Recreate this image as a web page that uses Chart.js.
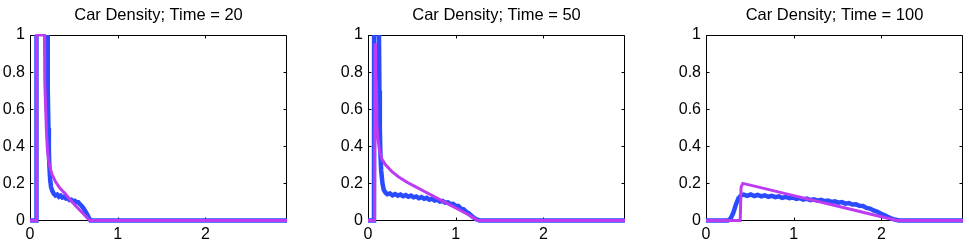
<!DOCTYPE html>
<html>
<head>
<meta charset="utf-8">
<script src="https://cdn.jsdelivr.net/npm/chart.js@4.4.0/dist/chart.umd.min.js"></script>
<style>
  body { margin: 0; background: #fff; width: 969px; height: 243px; position: relative; overflow: hidden; }
  canvas { position: absolute; top: 0; }
</style>
</head>
<body>
<canvas id="c20" style="left:0px" width="290" height="243"></canvas>
<canvas id="c50" style="left:338px" width="290" height="243"></canvas>
<canvas id="c100" style="left:676px" width="290" height="243"></canvas>
<script>
var xMax = 2.93;
var xTicks = [0, 1, 2];
var yTicks = [0, 0.2, 0.4, 0.6, 0.8, 1];
var yTickLabels = ['0', '0.2', '0.4', '0.6', '0.8', '1'];
var titles = ['Car Density; Time = 20', 'Car Density; Time = 50', 'Car Density; Time = 100'];

// Time = 20 (simulation goes above 1 near the front, cut off by the axes)
var x20Sim = [0, 0.072, 0.074, 0.195, 0.2, 0.205, 0.21, 0.215, 0.22, 0.23, 0.24, 0.255, 0.27, 0.29, 0.31, 0.33, 0.35, 0.37, 0.39, 0.41, 0.43, 0.45, 0.47, 0.49, 0.51, 0.53, 0.55, 0.57, 0.59, 0.61, 0.63, 0.65, 0.67, 0.69, 2.93];
var y20Sim = [0, 0, 1.3, 1.3, 1.0, 0.7, 0.5, 0.38, 0.3, 0.22, 0.18, 0.158, 0.145, 0.135, 0.14, 0.128, 0.134, 0.124, 0.128, 0.118, 0.12, 0.11, 0.112, 0.103, 0.106, 0.098, 0.098, 0.088, 0.078, 0.066, 0.05, 0.034, 0.016, 0, 0];
var x20Model = [0, 0.074, 0.076, 0.165, 0.167, 0.17, 0.18, 0.19, 0.20, 0.22, 0.25, 0.29, 0.34, 0.40, 0.46, 0.52, 0.58, 0.64, 0.68, 2.93];
var y20Model = [0, 0, 1, 1, 0.9, 0.75, 0.58, 0.45, 0.37, 0.3, 0.25, 0.21, 0.175, 0.145, 0.11, 0.08, 0.05, 0.02, 0, 0];

// Time = 50
var x50Sim = [0, 0.068, 0.07, 0.122, 0.125, 0.13, 0.135, 0.14, 0.15, 0.165, 0.18, 0.2, 0.22, 0.25, 0.28, 0.31, 0.34, 0.37, 0.40, 0.43, 0.46, 0.49, 0.52, 0.55, 0.58, 0.61, 0.64, 0.67, 0.70, 0.73, 0.76, 0.79, 0.82, 0.85, 0.88, 0.91, 0.94, 0.97, 1.00, 1.03, 1.06, 1.09, 1.12, 1.15, 1.18, 1.21, 1.24, 1.27, 2.93];
var y50Sim = [0, 0, 1.3, 1.3, 1.0, 0.7, 0.5, 0.38, 0.27, 0.2, 0.165, 0.15, 0.142, 0.146, 0.136, 0.143, 0.134, 0.14, 0.131, 0.137, 0.128, 0.134, 0.125, 0.13, 0.12, 0.126, 0.117, 0.122, 0.112, 0.118, 0.108, 0.112, 0.102, 0.106, 0.096, 0.098, 0.088, 0.09, 0.078, 0.078, 0.064, 0.06, 0.046, 0.038, 0.026, 0.014, 0.006, 0, 0];
var x50Model = [0, 0.075, 0.08, 0.085, 0.09, 0.095, 0.10, 0.11, 0.13, 0.16, 0.20, 0.27, 0.35, 0.45, 0.55, 0.65, 0.75, 0.85, 0.95, 1.05, 1.15, 1.25, 2.93];
var y50Model = [0, 0, 0.955, 0.9, 0.78, 0.65, 0.54, 0.45, 0.38, 0.33, 0.3, 0.265, 0.235, 0.205, 0.18, 0.155, 0.13, 0.105, 0.08, 0.055, 0.03, 0, 0];

// Time = 100
var x100Sim = [0, 0.25, 0.28, 0.31, 0.34, 0.37, 0.40, 0.43, 0.47, 0.51, 0.55, 0.59, 0.63, 0.67, 0.71, 0.75, 0.79, 0.83, 0.87, 0.91, 0.95, 0.99, 1.03, 1.07, 1.11, 1.15, 1.19, 1.23, 1.27, 1.31, 1.35, 1.39, 1.43, 1.47, 1.51, 1.55, 1.59, 1.63, 1.67, 1.71, 1.75, 1.79, 1.83, 1.87, 1.91, 1.95, 1.99, 2.03, 2.07, 2.11, 2.15, 2.2, 2.93];
var y100Sim = [0, 0, 0.01, 0.04, 0.085, 0.12, 0.135, 0.14, 0.133, 0.14, 0.132, 0.138, 0.13, 0.136, 0.128, 0.133, 0.126, 0.13, 0.122, 0.127, 0.12, 0.124, 0.117, 0.121, 0.113, 0.118, 0.11, 0.114, 0.107, 0.111, 0.104, 0.107, 0.1, 0.103, 0.096, 0.099, 0.091, 0.094, 0.086, 0.087, 0.079, 0.078, 0.068, 0.064, 0.054, 0.048, 0.038, 0.03, 0.02, 0.012, 0.005, 0, 0];
var x100Model = [0, 0.39, 0.40, 0.42, 0.6, 0.8, 1.0, 1.2, 1.4, 1.6, 1.8, 2.0, 2.18, 2.93];
var y100Model = [0, 0, 0.18, 0.2, 0.18, 0.157, 0.134, 0.111, 0.089, 0.066, 0.043, 0.02, 0, 0];

var fontFamily = '"Liberation Sans", Arial, Helvetica, sans-serif';

function pts(xs, ys) {
  return xs.map(function(x, i) { return {x: x, y: ys[i]}; });
}

var boxPlugin = {
  id: 'box',
  beforeDatasetsDraw: function(chart) {
    var ctx = chart.ctx, a = chart.chartArea;
    var xs = chart.scales.x, ys = chart.scales.y;
    var L = Math.round(a.left) + 0.5, R = Math.round(a.right) - 0.5;
    var T = Math.round(a.top) + 0.5, B = Math.round(a.bottom) - 0.5;
    ctx.save();
    ctx.strokeStyle = '#000';
    ctx.lineWidth = 1;
    ctx.beginPath();
    xTicks.forEach(function(v) {
      var px = Math.round(xs.getPixelForValue(v)) + 0.5;
      ctx.moveTo(px, B); ctx.lineTo(px, B - 3);
      ctx.moveTo(px, T); ctx.lineTo(px, T + 3);
    });
    yTicks.forEach(function(v) {
      var py = Math.round(ys.getPixelForValue(v)) + 0.5;
      ctx.moveTo(L, py); ctx.lineTo(L + 3, py);
      ctx.moveTo(R, py); ctx.lineTo(R - 3, py);
    });
    ctx.rect(L, T, R - L, B - T);
    ctx.stroke();
    ctx.restore();
  },
  afterDraw: function(chart) {
    var ctx = chart.ctx, a = chart.chartArea;
    ctx.save();
    ctx.fillStyle = '#000';
    ctx.font = '16.5px ' + fontFamily;
    ctx.textAlign = 'center';
    ctx.textBaseline = 'middle';
    ctx.fillText(chart.options.plugins.box.title, (a.left + a.right) / 2, 15);
    ctx.restore();
  }
};

function makeChart(id, title, xm, ym, xsim, ysim) {
  var ctx = document.getElementById(id).getContext('2d');
  return new Chart(ctx, {
    type: 'scatter',
    data: {
      datasets: [{
        data: pts(xm, ym),
        showLine: true,
        borderColor: '#bd3cf2',
        borderWidth: 3,
        pointRadius: 0,
        tension: 0,
        order: 0,
        clip: { left: 0, top: 1, right: 0, bottom: 3 }
      }, {
        data: pts(xsim, ysim),
        showLine: true,
        borderColor: '#2a4bff',
        borderWidth: 4.5,
        pointRadius: 0,
        tension: 0,
        order: 1,
        clip: { left: 0, top: 0, right: 0, bottom: 3 }
      }]
    },
    options: {
      responsive: false,
      animation: false,
      events: [],
      layout: { padding: { top: 35, right: 3, left: 0, bottom: 0 } },
      plugins: { legend: { display: false }, tooltip: { enabled: false }, box: { title: title } },
      scales: {
        x: {
          type: 'linear', min: 0, max: xMax,
          grid: { display: false, drawTicks: false },
          border: { display: false },
          afterBuildTicks: function(s) { s.ticks = xTicks.map(function(v) { return {value: v}; }); },
          afterFit: function(s) { s.height = 22.5; },
          ticks: { padding: 4, color: '#000', maxRotation: 0, autoSkip: false, font: { family: fontFamily, size: 16 } }
        },
        y: {
          type: 'linear', min: 0, max: 1,
          grid: { display: false, drawTicks: false },
          border: { display: false },
          afterBuildTicks: function(s) { s.ticks = yTicks.map(function(v) { return {value: v}; }); },
          afterFit: function(s) { s.width = 30; },
          ticks: {
            padding: 5, color: '#000', autoSkip: false, font: { family: fontFamily, size: 16 },
            callback: function(v, i) { return yTickLabels[i]; }
          }
        }
      }
    },
    plugins: [boxPlugin]
  });
}

makeChart('c20', titles[0], x20Model, y20Model, x20Sim, y20Sim);
makeChart('c50', titles[1], x50Model, y50Model, x50Sim, y50Sim);
makeChart('c100', titles[2], x100Model, y100Model, x100Sim, y100Sim);
</script>
</body>
</html>
